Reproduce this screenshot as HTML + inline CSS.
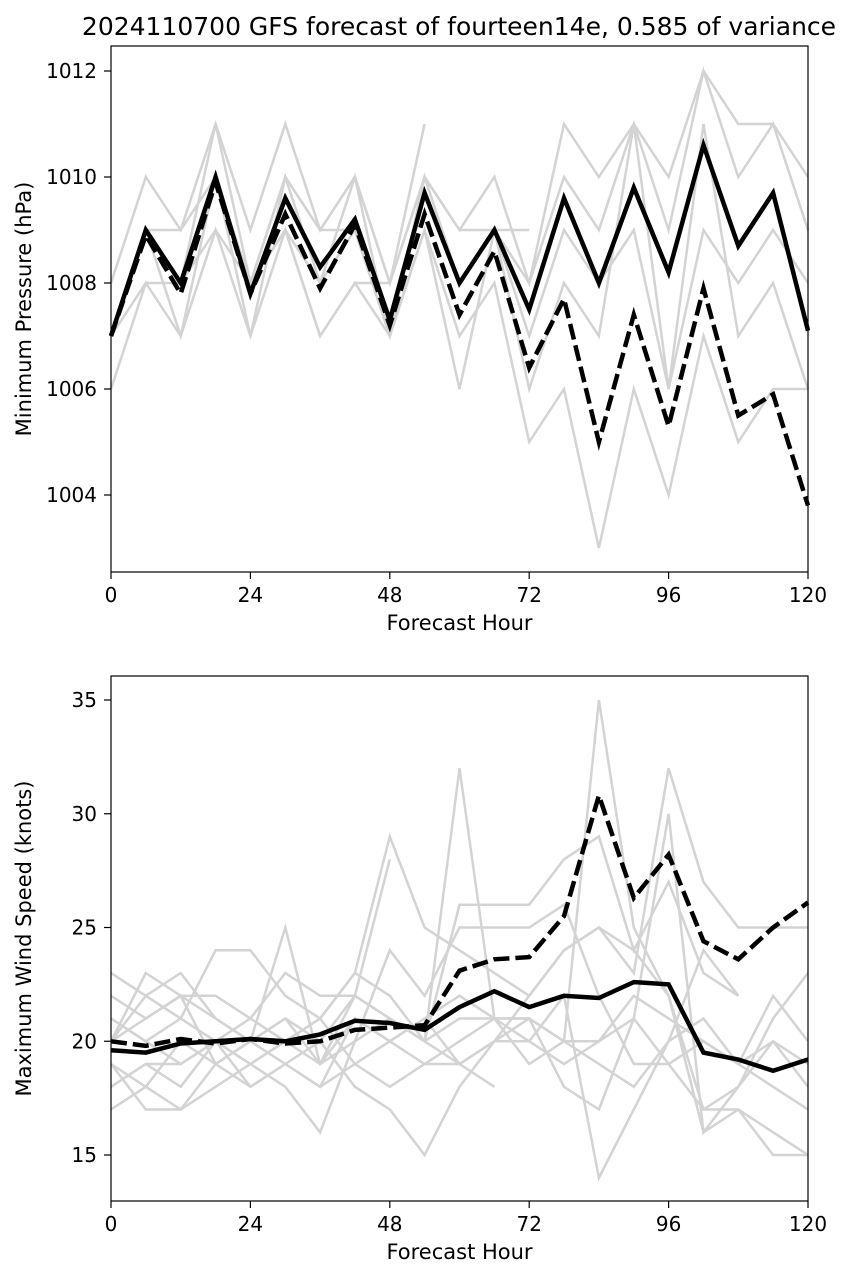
<!DOCTYPE html>
<html><head><meta charset="utf-8"><style>
body{margin:0;background:#fff;font-family:"Liberation Sans","DejaVu Sans",sans-serif}
svg text{font-family:"DejaVu Sans","Liberation Sans",sans-serif;fill:#000}
</style></head><body>
<svg id="s" width="852" height="1279" viewBox="0 0 852 1279"></svg>
<script>
const hours=[0,6,12,18,24,30,36,42,48,54,60,66,72,78,84,90,96,102,108,114,120];
const xTicks=[0,24,48,72,96,120];
const pTicks=[1004,1006,1008,1010,1012];
const wTicks=[15,20,25,30,35];
const N=null;
const presMean=[1007,1009,1008,1010,1007.8,1009.6,1008.3,1009.2,1007.3,1009.7,1008,1009,1007.5,1009.6,1008,1009.8,1008.2,1010.6,1008.7,1009.7,1007.1];
const presDash=[1007,1008.9,1007.8,1009.9,1007.8,1009.3,1007.9,1009.1,1007.2,1009.3,1007.4,1008.6,1006.4,1007.7,1005,1007.4,1005.3,1007.9,1005.5,1005.9,1003.8];
const presM1=[1008,1010,1009,1011,1009,1011,1009,1010,1008,1010,1009,1010,1008,1011,1010,1011,1010,1012,1011,1011,1010];
const presM2=[1007,1009,1008,1010,1008,1010,1008,1010,1007,1010,1008,1009,1008,1010,1009,1011,1009,1012,1010,1011,1009];
const presM3=[1006,1008,1007,1009,1007,1009,1007,1008,1007,1009,1007,1008,1005,1006,1003,1006,1004,1007,1005,1006,1006];
const presM4=[1007,1008,1008,1011,1008,1009,1008,1009,1007,1009,1006,1009,1006,1008,1007,1011,1006,1011,1007,1008,1006];
const presM5=[1007,1009,1009,1010,1008,1010,1009,1010,1008,1011,N,N,N,N,N,N,N,N,N,N,N];
const presM6=[1007,1009,1007,1010,1007,1010,1009,1009,1007,1010,1009,1009,1009,N,N,N,N,N,N,N,N];
const presM7=[1007,1009,1008,1009,1008,1009,1007,1008,1008,1010,1008,1009,1007,1009,1008,1009,1006,1009,1008,1009,1008];
const presMembers=[presM1,presM2,presM3,presM4,presM5,presM6,presM7];
const windMean=[19.6,19.5,19.9,20,20.1,20,20.3,20.9,20.8,20.5,21.5,22.2,21.5,22,21.9,22.6,22.5,19.5,19.2,18.7,19.2];
const windDash=[20,19.8,20.1,19.9,20.1,19.9,20,20.5,20.6,20.7,23.1,23.6,23.7,25.5,30.8,26.3,28.2,24.4,23.6,25,26.1];
const wM1=[21,20,19,20,21,20,19,22,21,20,21,21,19,20,35,25,22,17,17,16,15];
const wM2=[18,19,19,20,19,20,21,23,29,25,24,23,22,24,25,23,32,27,25,25,25];
const wM3=[19,18,20,19,20,21,20,22,28,N,N,N,N,N,N,N,N,N,N,N,N];
const wM4=[22,21,22,21,20,25,19,20,21,20,32,21,21,18,17,21,30,16,18,21,23];
const wM5=[20,22,21,24,24,22,21,23,22,20,19,18,N,N,N,N,N,N,N,N,N];
const wM6=[23,22,23,21,20,21,19,21,20,21,19,20,20,22,14,17,20,24,22,N,N];
const wM7=[17,18,17,19,18,19,20,18,17,15,18,20,22,24,25,24,22,16,17,15,15];
const wM8=[19,17,17,18,19,18,16,20,24,22,25,25,25,26,22,19,19,20,19,20,18];
const wM9=[20,21,22,19,20,19,18,19,18,19,19,20,21,20,19,18,20,21,19,18,17];
const wM10=[21,20,21,20,19,20,21,19,20,21,22,21,21,20,20,22,21,20,19,22,20];
const wM11=[18,19,18,20,18,19,18,21,20,19,20,21,20,19,20,21,19,17,18,20,19];
const wM12=[20,23,22,22,21,23,22,22,21,20,26,26,26,28,29,24,27,23,22,N,N];
const windMembers=[wM1,wM2,wM3,wM4,wM5,wM6,wM7,wM8,wM9,wM10,wM11,wM12];

const svg=document.getElementById('s');
const NS='http://www.w3.org/2000/svg';
function mk(tag,attrs,parent){const e=document.createElementNS(NS,tag);for(const k in attrs)e.setAttribute(k,attrs[k]);(parent||svg).appendChild(e);return e;}
const X0=111,X1=808;
const xs=h=>X0+(X1-X0)*h/120;
function panel(top,bottom,yFn,yTicks,members,mean,dash,ylabel,pref){
  const g=mk('g',{});
  
  
  members.forEach((m,i)=>{
    let d='',pen=false;
    m.forEach((v,j)=>{if(v===null){pen=false;return;}d+=(pen?'L':'M')+xs(hours[j]).toFixed(1)+','+yFn(v).toFixed(1);pen=true;});
    const p=mk('path',{d:d,fill:'none',stroke:'#d3d3d3','stroke-width':2.5},g);
    
    
  });
  const path=a=>a.map((v,j)=>(j?'L':'M')+xs(hours[j]).toFixed(1)+','+yFn(v).toFixed(1)).join('');
  const pd=mk('path',{d:path(dash),fill:'none',stroke:'#000','stroke-width':4.5,'stroke-dasharray':'16,6'},g);
  
  
  const pm=mk('path',{d:path(mean),fill:'none',stroke:'#000','stroke-width':4.5},g);
  
  
  const fr=mk('rect',{x:X0,y:top,width:X1-X0,height:bottom-top,fill:'none',stroke:'#000','stroke-width':1.2},g);
  
  
  xTicks.forEach(t=>{
    mk('line',{x1:xs(t),x2:xs(t),y1:bottom,y2:bottom+7,stroke:'#000','stroke-width':1.2},g);
    const tx=mk('text',{x:xs(t),y:bottom+30,'font-size':20,'text-anchor':'middle'},g);tx.textContent=t;
    
    
  });
  yTicks.forEach(t=>{
    mk('line',{x1:X0-7,x2:X0,y1:yFn(t),y2:yFn(t),stroke:'#000','stroke-width':1.2},g);
    const tx=mk('text',{x:X0-14,y:yFn(t)+7,'font-size':20,'text-anchor':'end'},g);tx.textContent=t;
    
    
  });
  const xl=mk('text',{x:(X0+X1)/2,y:bottom+58,'font-size':21,'text-anchor':'middle'},g);xl.textContent='Forecast Hour';
  
  
  const cy=(top+bottom)/2;
  const yl=mk('text',{x:31,y:cy,'font-size':21,'text-anchor':'middle',transform:'rotate(-90 31 '+cy+')'},g);yl.textContent=ylabel;
  
  
}
const yP=v=>71+(1012-v)*53;
const yW=v=>700+(35-v)*22.75;
panel(46,572,yP,pTicks,presMembers,presMean,presDash,'Minimum Pressure (hPa)','pressure');
panel(676,1201,yW,wTicks,windMembers,windMean,windDash,'Maximum Wind Speed (knots)','wind');
const t=mk('text',{x:459,y:35,'font-size':25,'text-anchor':'middle'});
t.textContent='2024110700 GFS forecast of fourteen14e, 0.585 of variance';


</script>
</body></html>
